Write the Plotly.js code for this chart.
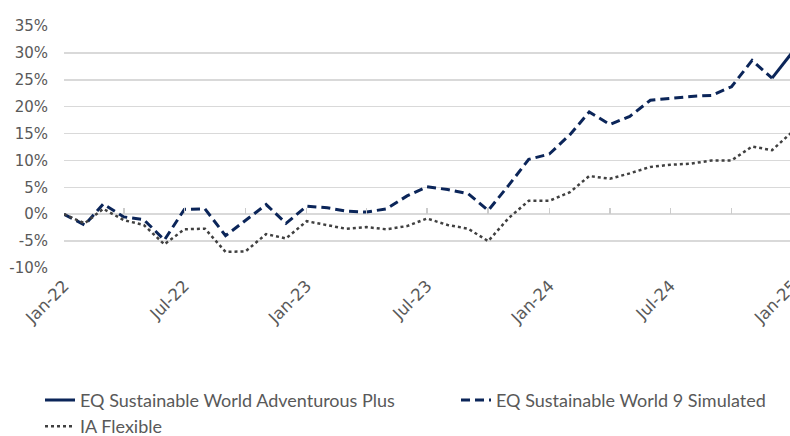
<!DOCTYPE html>
<html>
<head>
<meta charset="utf-8">
<script src="https://cdn.plot.ly/plotly-3.0.1.min.js"></script>
<style>
html,body{margin:0;padding:0;background:#fff;overflow:hidden;width:790px;height:436px;}
#chart{width:800px;height:436px;}
</style>
</head>
<body>
<div id="chart"></div>
<script>
const months = ["2022-01-01","2022-02-01","2022-03-01","2022-04-01","2022-05-01","2022-06-01","2022-07-01","2022-08-01","2022-09-01","2022-10-01","2022-11-01","2022-12-01",
"2023-01-01","2023-02-01","2023-03-01","2023-04-01","2023-05-01","2023-06-01","2023-07-01","2023-08-01","2023-09-01","2023-10-01","2023-11-01","2023-12-01",
"2024-01-01","2024-02-01","2024-03-01","2024-04-01","2024-05-01","2024-06-01","2024-07-01","2024-08-01","2024-09-01","2024-10-01","2024-11-01","2024-12-01",
"2025-01-01"];

const simulatedMonths = months.slice(0, 36);
const simulated = [0, -2.0, 1.9, -0.5, -1.0, -4.8, 0.9, 1.0, -4.0, -1.1, 1.8, -1.7,
  1.5, 1.2, 0.6, 0.4, 1.0, 3.4, 5.1, 4.6, 3.8, 0.7, 5.4, 10.2,
  11.2, 14.8, 19.0, 16.7, 18.2, 21.2, 21.6, 21.9, 22.1, 23.7, 28.6, 25.3];

const fundMonths = ["2024-12-01", "2025-01-01"];
const fund = [25.3, 30.2];

const iaFlexible = [0, -1.7, 1.0, -1.1, -2.0, -5.6, -2.8, -2.7, -7.0, -6.9, -3.7, -4.5,
  -1.3, -2.0, -2.7, -2.4, -2.8, -2.2, -0.8, -2.0, -2.7, -5.0, -0.7, 2.5,
  2.5, 4.1, 7.1, 6.6, 7.6, 8.8, 9.2, 9.4, 10.0, 10.0, 12.6, 11.9, 15.4];

const yTickVals = [-10, -5, 0, 5, 10, 15, 20, 25, 30, 35];
const yTickText = ["-10%", "-5%", "0%", "5%", "10%", "15%", "20%", "25%", "30%", "35%"];

const navy = "#0b2559";
const grey = "#404040";
const textGrey = "#595959";
const xRange = ["2022-01-01", "2025-01-01 12:00"];

const traces = [
  {x: fundMonths, y: fund, name: "EQ Sustainable World Adventurous Plus", type: "scatter", mode: "lines",
   line: {color: navy, width: 3}, legend: "legend"},
  {x: simulatedMonths, y: simulated, name: "EQ Sustainable World 9 Simulated", type: "scatter", mode: "lines",
   line: {color: navy, width: 3, dash: "9px,5px"}, legend: "legend2"},
  {x: months, y: iaFlexible, name: "IA Flexible", type: "scatter", mode: "lines",
   line: {color: grey, width: 2.5, dash: "dot"}, legend: "legend"},
  {x: months, y: iaFlexible, xaxis: "x2", yaxis: "y2", type: "scatter", mode: "lines", opacity: 0,
   line: {width: 0}, showlegend: false, hoverinfo: "skip"}
];

const legendFont = {family: "Lato, sans-serif", size: 18, color: textGrey};

const layout = {
  width: 800, height: 436,
  margin: {l: 63.5, r: 7, t: 25.7, b: 168.3, autoexpand: false},
  paper_bgcolor: "#fff", plot_bgcolor: "rgba(0,0,0,0)",
  showlegend: true,
  font: {family: "'DejaVu Sans', sans-serif", color: textGrey, size: 15},
  xaxis: {
    type: "date", range: xRange, domain: [0, 1], anchor: "y",
    tickformat: "%b-%y", dtick: "M6", tick0: "2022-01-01",
    tickangle: -45, showgrid: false, zeroline: false, showline: false,
    ticks: "", ticklabelstandoff: 4, automargin: false, ticklabeloverflow: "allow",
    tickfont: {family: "'DejaVu Sans', sans-serif", size: 16.5, color: textGrey}
  },
  yaxis: {
    range: [-10, 35], tickvals: yTickVals, ticktext: yTickText, domain: [0, 1], anchor: "x",
    showgrid: true, gridcolor: "#d9d9d9", gridwidth: 1.5, zeroline: false, showline: false,
    ticks: "", ticklabelstandoff: 15, automargin: false,
    tickfont: {family: "'DejaVu Sans', sans-serif", size: 15, color: textGrey}
  },
  xaxis2: {
    type: "date", anchor: "y2", domain: [0, 1],
    range: xRange, dtick: "M3", tick0: "2022-01-01",
    showticklabels: false, showgrid: false, zeroline: false, showline: false,
    ticks: "inside", ticklen: 6, tickwidth: 1.5, tickcolor: "#cccccc"
  },
  yaxis2: {
    anchor: "x2", domain: [0.2223, 1], range: [0, 1],
    showticklabels: false, showgrid: false, zeroline: false, showline: false, ticks: ""
  },
  legend: {
    orientation: "v", xref: "container", yref: "container",
    x: 0.05, y: 0.1245, xanchor: "left", yanchor: "top",
    font: legendFont, tracegroupgap: 0, traceorder: "normal", bgcolor: "rgba(0,0,0,0)"
  },
  legend2: {
    orientation: "v", xref: "container", yref: "container",
    x: 0.57, y: 0.1245, xanchor: "left", yanchor: "top",
    font: legendFont, bgcolor: "rgba(0,0,0,0)"
  }
};

Plotly.newPlot("chart", traces, layout, {displayModeBar: false, staticPlot: true});
</script>
</body>
</html>
